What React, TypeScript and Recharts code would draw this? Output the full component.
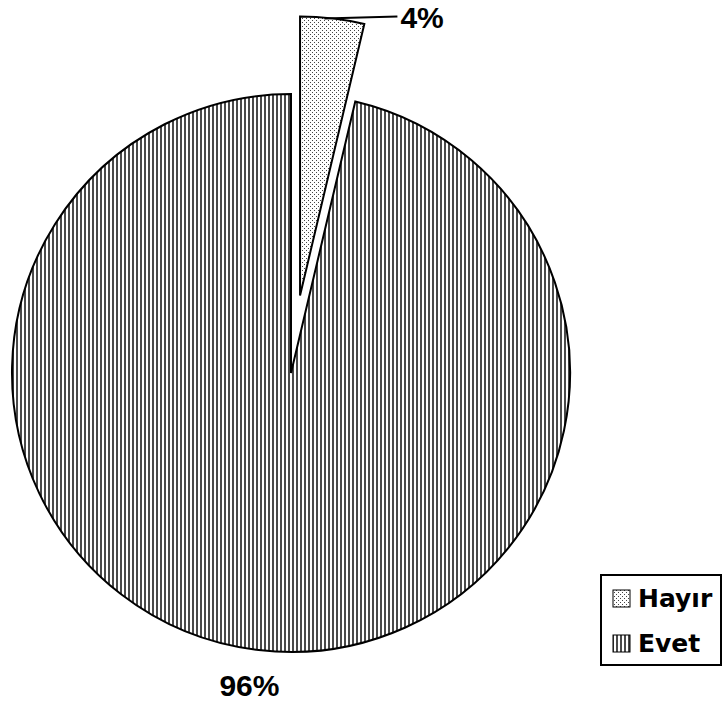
import React from "react";
import { PieChart, Pie, Cell, Legend } from "recharts";

const categories = ["Hayır", "Evet"];
const values = [3.7, 96.3];

const total = values.reduce((a, b) => a + b, 0);
const data = categories.map((name, i) => ({
  name,
  value: values[i],
  label: Math.round((values[i] / total) * 100) + "%",
}));

const W = 725;
const H = 709;
const CX = 291;
const CY = 373;
const R = 279;
const EXPLODE = 78;
const FONT = "'Liberation Sans', Arial, sans-serif";
const LEGEND_FONT = "'DejaVu Sans', 'Liberation Sans', Arial, sans-serif";

const midDeg = 90 - ((values[0] / total) * 360) / 2;
const rad = (d: number) => (d * Math.PI) / 180;
const ex = CX + EXPLODE * Math.cos(rad(midDeg));
const ey = CY - EXPLODE * Math.sin(rad(midDeg));

const patternIds = ["dots", "vlines"];

function Patterns({ suffix }: { suffix: string }) {
  return (
    <defs>
      <pattern id={"dots" + suffix} width="4" height="4" patternUnits="userSpaceOnUse">
        <rect width="4" height="4" fill="#fff" />
        <rect x="0" y="0" width="1" height="1" fill="#444" />
        <rect x="2" y="2" width="1" height="1" fill="#444" />
      </pattern>
      <pattern id={"vlines" + suffix} width="4" height="4" patternUnits="userSpaceOnUse">
        <rect width="4" height="4" fill="#fff" />
        <rect x="0" y="0" width="2" height="4" fill="#4a4a4a" />
      </pattern>
    </defs>
  );
}

const renderLabel = (which: number) => (props: any) => {
  const { cx, cy, midAngle, outerRadius, index } = props;
  if (index !== which) return null;
  const item = data[index];
  if (which === 0) {
    const sx = cx + outerRadius * Math.cos(rad(midAngle)) - 8;
    const sy = cy - outerRadius * Math.sin(rad(midAngle));
    const lx = sx + 73;
    const ly = sy - 2;
    return (
      <g>
        <line x1={sx} y1={sy} x2={lx} y2={ly} stroke="#000" strokeWidth={2} />
        <text x={lx + 3} y={ly + 1} textAnchor="start" dominantBaseline="central" fontFamily={FONT} fontWeight="bold" fontSize={30} fill="#000">
          {item.label}
        </text>
      </g>
    );
  }
  const r2 = outerRadius + 36;
  const x = cx + r2 * Math.cos(rad(midAngle)) - 5;
  const y = cy - r2 * Math.sin(rad(midAngle));
  return (
    <text x={x} y={y} textAnchor="middle" dominantBaseline="central" fontFamily={FONT} fontWeight="bold" fontSize={30} fill="#000">
      {item.label}
    </text>
  );
};

const LW = 122;
const LH = 92;

function LegendContent() {
  return (
    <svg width={LW} height={LH} style={{ display: "block" }}>
      <Patterns suffix="-lg" />
      <rect x={1} y={1} width={LW - 2} height={LH - 2} fill="#fff" stroke="#000" strokeWidth={2} />
      {categories.map((c, i) => {
        const top = 16 + i * 45;
        return (
          <g key={c}>
            <rect x={13} y={top} width={17} height={17} fill={`url(#${patternIds[i]}-lg)`} stroke="#000" strokeWidth={1} />
            <text x={38} y={top + 17} fontFamily={LEGEND_FONT} fontWeight="bold" fontSize={25} fill="#000">
              {c}
            </text>
          </g>
        );
      })}
    </svg>
  );
}

export default function App() {
  return (
    <div style={{ position: "absolute", left: 0, top: 0, width: W, height: H, background: "#fff" }}>
      <PieChart width={W} height={H} margin={{ top: 0, right: 0, bottom: 0, left: 0 }}>
        <Patterns suffix="" />
        <Pie
          data={data}
          dataKey="value"
          nameKey="name"
          cx={CX}
          cy={CY}
          outerRadius={R}
          startAngle={90}
          endAngle={-270}
          isAnimationActive={false}
          label={renderLabel(1)}
          labelLine={false}
          legendType="none"
        >
          {data.map((d, i) => (
            <Cell
              key={d.name}
              fill={i === 1 ? `url(#${patternIds[1]})` : "none"}
              stroke={i === 1 ? "#000" : "none"}
              strokeWidth={2}
            />
          ))}
        </Pie>
        <Pie
          data={data}
          dataKey="value"
          nameKey="name"
          cx={ex}
          cy={ey}
          outerRadius={R}
          startAngle={90}
          endAngle={-270}
          isAnimationActive={false}
          label={renderLabel(0)}
          labelLine={false}
          legendType="none"
        >
          {data.map((d, i) => (
            <Cell
              key={d.name}
              fill={i === 0 ? `url(#${patternIds[0]})` : "none"}
              stroke={i === 0 ? "#000" : "none"}
              strokeWidth={2}
            />
          ))}
        </Pie>
        <Legend
          content={<LegendContent />}
          wrapperStyle={{ position: "absolute", left: 600, top: 574, width: LW, height: LH }}
        />
      </PieChart>
    </div>
  );
}
